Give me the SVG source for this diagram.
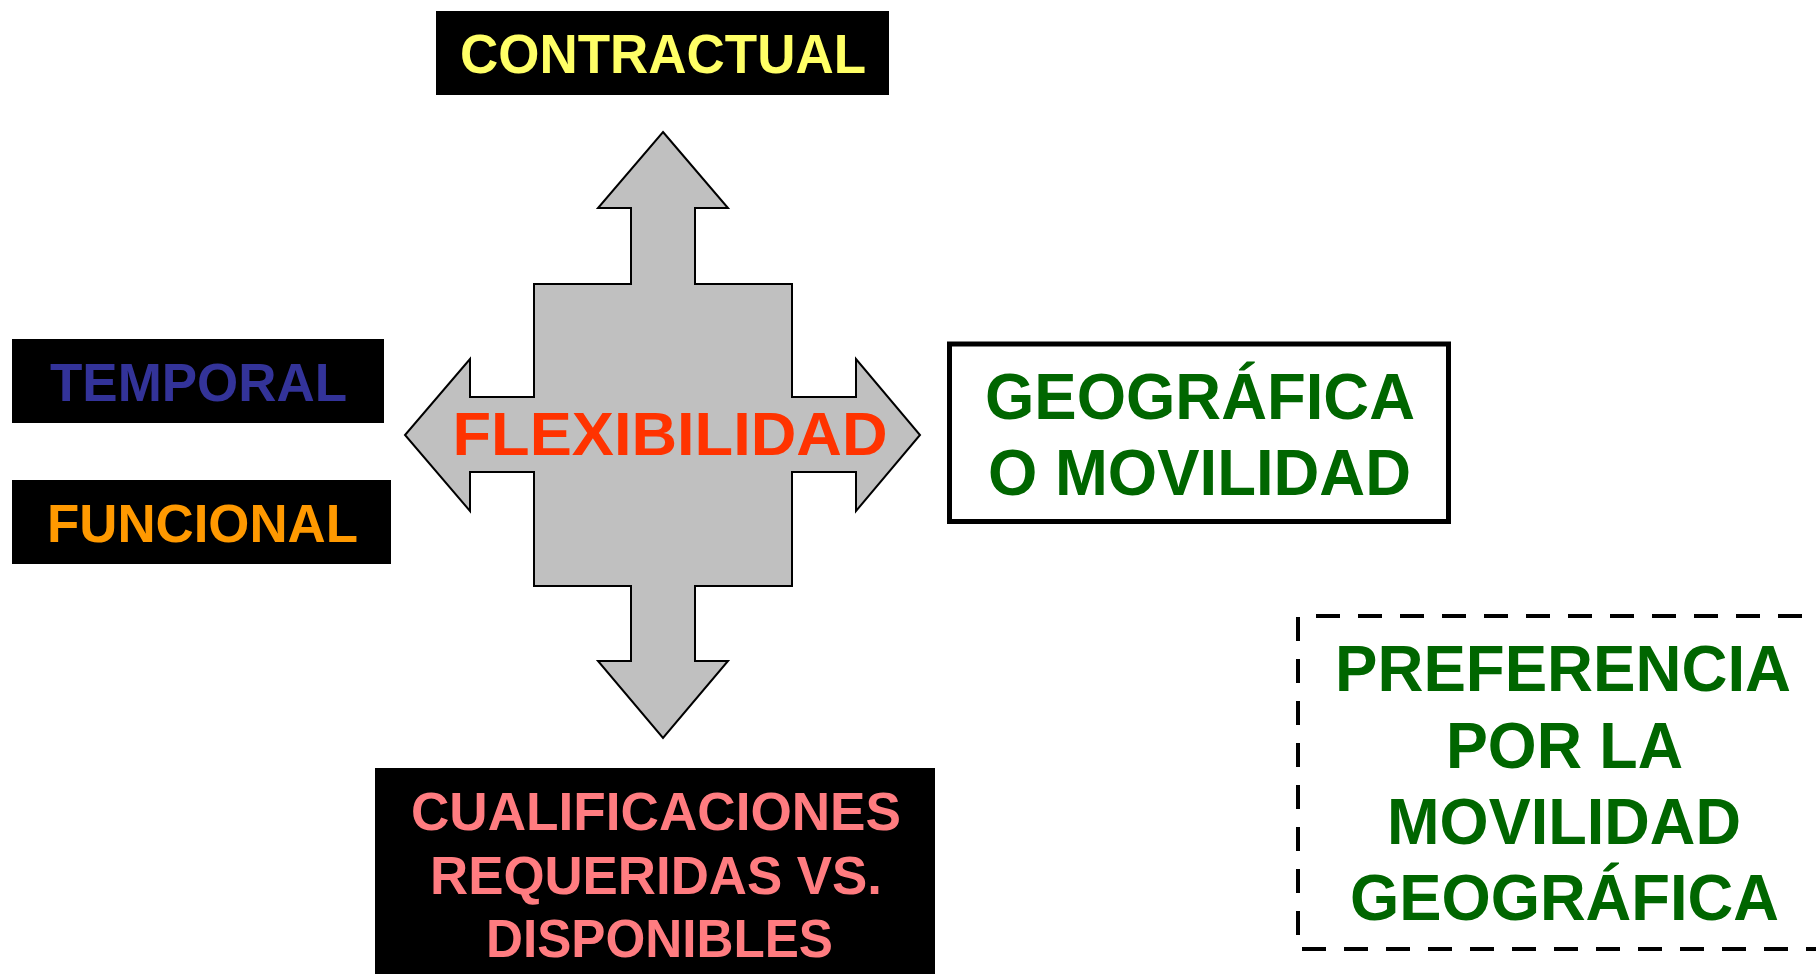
<svg xmlns="http://www.w3.org/2000/svg" width="1816" height="974" viewBox="0 0 1816 974">
<style>
text{font-family:"Liberation Sans",Arial,sans-serif;font-weight:bold;text-anchor:middle}
.blk{fill:#000}
.g{fill:#006600;font-size:64px}
.p{fill:#FF7C80;font-size:53px}
</style>
<rect width="1816" height="974" fill="#fff"/>
<g id="connectors">
<path id="flex-arrow" d="M663,132 L728,208 L695,208 L695,284 L792,284 L792,397 L856,397 L856,359 L920,435 L856,511 L856,472 L792,472 L792,586 L695,586 L695,661 L728,661 L663,738 L598,661 L631,661 L631,586 L534,586 L534,472 L470,472 L470,511 L405,435 L470,359 L470,397 L534,397 L534,284 L631,284 L631,208 L598,208 Z" fill="#C0C0C0" stroke="#000" stroke-width="2" stroke-linejoin="miter"/>
</g>
<g id="flexibilidad">
<text x="670" y="455" font-size="62" fill="#FF3300" textLength="435" lengthAdjust="spacingAndGlyphs">FLEXIBILIDAD</text>
</g>
<g id="contractual">
<rect class="blk" x="436" y="11" width="453" height="84"/>
<text x="663" y="73" font-size="56" fill="#FFFF66" textLength="406" lengthAdjust="spacingAndGlyphs">CONTRACTUAL</text>
</g>
<g id="temporal">
<rect class="blk" x="12" y="339" width="372" height="84"/>
<text x="198.5" y="401" font-size="53" fill="#333399" textLength="297" lengthAdjust="spacingAndGlyphs">TEMPORAL</text>
</g>
<g id="funcional">
<rect class="blk" x="12" y="480" width="379" height="84"/>
<text x="202.5" y="542" font-size="54" fill="#FF9900" textLength="311" lengthAdjust="spacingAndGlyphs">FUNCIONAL</text>
</g>
<g id="geografica">
<rect x="949.5" y="344" width="499" height="177.5" fill="#fff" stroke="#000" stroke-width="5"/>
<text class="g" x="1200" y="419" textLength="430" lengthAdjust="spacingAndGlyphs">GEOGRÁFICA</text>
<text class="g" x="1199.5" y="495" textLength="423" lengthAdjust="spacingAndGlyphs">O MOVILIDAD</text>
</g>
<g id="cualificaciones">
<rect class="blk" x="375" y="768" width="560" height="206"/>
<text class="p" x="656" y="830" textLength="490" lengthAdjust="spacingAndGlyphs">CUALIFICACIONES</text>
<text class="p" x="656" y="894" textLength="452" lengthAdjust="spacingAndGlyphs">REQUERIDAS VS.</text>
<text class="p" x="659.5" y="957" textLength="347" lengthAdjust="spacingAndGlyphs">DISPONIBLES</text>
</g>
<g id="preferencia">
<g stroke="#000" stroke-width="4" stroke-dasharray="24 18" fill="none">
<line x1="1316" y1="616" x2="1830" y2="616"/>
<line x1="1298" y1="617" x2="1298" y2="936"/>
<line x1="1302" y1="949" x2="1830" y2="949"/>
</g>
<text class="g" x="1563" y="691" textLength="456" lengthAdjust="spacingAndGlyphs">PREFERENCIA</text>
<text class="g" x="1564.5" y="768" textLength="237" lengthAdjust="spacingAndGlyphs">POR LA</text>
<text class="g" x="1564" y="844" textLength="354" lengthAdjust="spacingAndGlyphs">MOVILIDAD</text>
<text class="g" x="1564.5" y="920" textLength="429" lengthAdjust="spacingAndGlyphs">GEOGRÁFICA</text>
</g>
</svg>
